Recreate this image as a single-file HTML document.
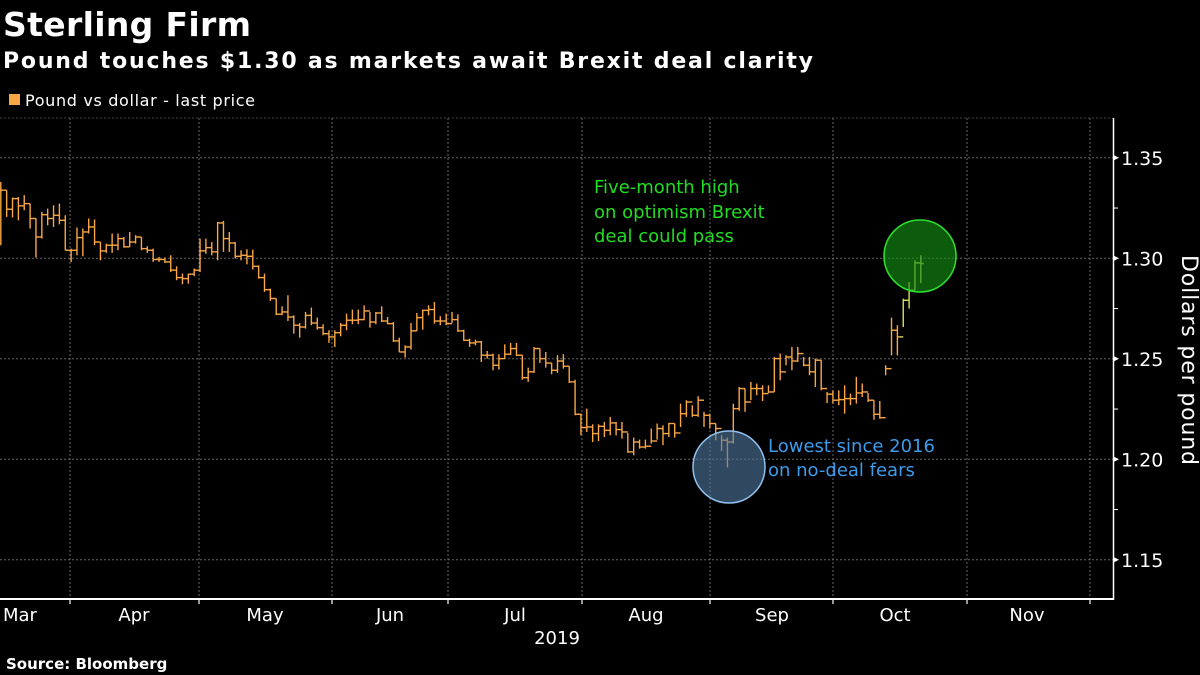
<!DOCTYPE html>
<html><head><meta charset="utf-8"><style>
html,body{margin:0;padding:0;background:#000;}
svg{display:block;font-family:"DejaVu Sans","Liberation Sans",sans-serif;}
</style></head><body>
<svg id="chart" width="1200" height="675" viewBox="0 0 1200 675">
<rect width="1200" height="675" fill="#000"/>
<text x="3" y="36" fill="#fff" font-weight="bold" font-size="33" textLength="248">Sterling Firm</text>
<text x="3" y="68" fill="#fff" font-weight="bold" font-size="22" textLength="810">Pound touches $1.30 as markets await Brexit deal clarity</text>
<g>
<rect x="9" y="94" width="11" height="11" fill="#f8a646"/>
<text x="25" y="106" fill="#fff" font-size="16" textLength="230">Pound vs dollar - last price</text>
</g>
<g id="grid"></g>
<g id="bars"></g>
<g id="axes"></g>
<circle cx="920" cy="256" r="36" fill="rgba(20,140,20,0.65)" stroke="#2ee02e" stroke-width="1.5"/>
<circle cx="729" cy="467" r="36" fill="rgba(80,120,160,0.6)" stroke="#8fc0ee" stroke-width="1.5"/>
<g fill="#22dd22" font-size="18">
<text x="594" y="193">Five-month high</text>
<text x="594" y="218">on optimism Brexit</text>
<text x="594" y="242">deal could pass</text>
</g>
<g fill="#3d9be9" font-size="18">
<text x="768" y="452">Lowest since 2016</text>
<text x="768" y="476">on no-deal fears</text>
</g>
<text transform="translate(1182,360) rotate(90)" fill="#fff" font-size="22" text-anchor="middle" textLength="210">Dollars per pound</text>
<text x="557" y="644" fill="#fff" font-size="18" text-anchor="middle">2019</text>
<text x="6" y="669" fill="#fff" font-weight="bold" font-size="15">Source: Bloomberg</text>
</svg>
<script>
const closes=[1.3339,1.3244,1.3297,1.3261,1.3272,1.3198,1.3106,1.3217,1.3198,1.3214,1.3189,1.3040,1.3040,1.3103,1.3131,1.3156,1.3081,1.3037,1.3065,1.3065,1.3098,1.3057,1.3081,1.3106,1.3048,1.3040,1.2994,1.2994,1.2982,1.2941,1.2904,1.2899,1.2921,1.2941,1.3037,1.3053,1.3032,1.3176,1.3098,1.3076,1.3010,1.3015,1.3010,1.2960,1.2904,1.2844,1.2800,1.2722,1.2733,1.2708,1.2667,1.2658,1.2716,1.2678,1.2655,1.2625,1.2609,1.2630,1.2667,1.2692,1.2692,1.2695,1.2738,1.2683,1.2728,1.2688,1.2675,1.2589,1.2534,1.2559,1.2639,1.2705,1.2741,1.2745,1.2688,1.2688,1.2675,1.2695,1.2639,1.2592,1.2579,1.2584,1.2518,1.2518,1.2468,1.2501,1.2523,1.2551,1.2518,1.2406,1.2435,1.2551,1.2501,1.2479,1.2443,1.2489,1.2463,1.2385,1.2224,1.2158,1.2161,1.2128,1.2164,1.2144,1.2181,1.2148,1.2136,1.2037,1.2086,1.2061,1.2065,1.2091,1.2153,1.2128,1.2178,1.2131,1.2227,1.2285,1.2219,1.2294,1.2219,1.2178,1.2153,1.2095,1.2086,1.2252,1.2352,1.2285,1.2352,1.2352,1.2327,1.2335,1.2501,1.2435,1.2509,1.2489,1.2526,1.2468,1.2435,1.2493,1.2352,1.2324,1.2294,1.2297,1.2302,1.2302,1.2330,1.2335,1.2294,1.2224,1.2207,1.2451,1.2642,1.2609,1.2791,1.2841,1.2977,1.2974];
const highs=[1.3380,1.3339,1.3302,1.3305,1.3314,1.3272,1.3198,1.3231,1.3247,1.3264,1.3272,1.3214,1.3048,1.3153,1.3148,1.3198,1.3193,1.3081,1.3073,1.3123,1.3123,1.3106,1.3131,1.3115,1.3106,1.3060,1.3048,1.3007,1.3004,1.3015,1.2960,1.2924,1.2924,1.2949,1.3098,1.3098,1.3081,1.3181,1.3186,1.3131,1.3081,1.3040,1.3045,1.3043,1.2965,1.2924,1.2849,1.2800,1.2761,1.2816,1.2716,1.2678,1.2733,1.2755,1.2705,1.2672,1.2642,1.2642,1.2678,1.2725,1.2745,1.2745,1.2766,1.2733,1.2733,1.2761,1.2708,1.2683,1.2605,1.2567,1.2678,1.2728,1.2745,1.2766,1.2783,1.2712,1.2725,1.2733,1.2721,1.2645,1.2600,1.2595,1.2589,1.2539,1.2526,1.2523,1.2572,1.2579,1.2579,1.2518,1.2456,1.2559,1.2551,1.2534,1.2479,1.2518,1.2523,1.2463,1.2396,1.2227,1.2252,1.2174,1.2174,1.2186,1.2211,1.2186,1.2186,1.2131,1.2108,1.2098,1.2098,1.2153,1.2178,1.2169,1.2181,1.2178,1.2277,1.2294,1.2269,1.2314,1.2236,1.2227,1.2178,1.2120,1.2108,1.2277,1.2360,1.2352,1.2385,1.2377,1.2368,1.2368,1.2509,1.2526,1.2518,1.2559,1.2559,1.2509,1.2509,1.2501,1.2493,1.2335,1.2343,1.2343,1.2368,1.2327,1.2410,1.2377,1.2330,1.2294,1.2290,1.2468,1.2705,1.2667,1.2799,1.2882,1.2990,1.3015];
const lows=[1.3065,1.3206,1.3203,1.3189,1.3239,1.3148,1.3004,1.3098,1.3164,1.3156,1.3169,1.3040,1.2982,1.3015,1.3010,1.3123,1.3065,1.2990,1.3027,1.3027,1.3040,1.3053,1.3057,1.3073,1.3040,1.3027,1.2982,1.2982,1.2977,1.2932,1.2891,1.2871,1.2874,1.2911,1.2932,1.3023,1.3015,1.2990,1.3032,1.3032,1.2999,1.2990,1.2970,1.2944,1.2899,1.2833,1.2788,1.2717,1.2717,1.2688,1.2625,1.2605,1.2650,1.2667,1.2645,1.2617,1.2579,1.2559,1.2612,1.2642,1.2672,1.2672,1.2692,1.2655,1.2672,1.2683,1.2672,1.2584,1.2534,1.2506,1.2546,1.2639,1.2645,1.2716,1.2675,1.2667,1.2667,1.2678,1.2634,1.2589,1.2559,1.2567,1.2484,1.2501,1.2443,1.2446,1.2501,1.2518,1.2513,1.2396,1.2385,1.2430,1.2479,1.2456,1.2423,1.2430,1.2451,1.2380,1.2219,1.2120,1.2136,1.2086,1.2091,1.2111,1.2119,1.2119,1.2103,1.2032,1.2020,1.2053,1.2053,1.2078,1.2098,1.2070,1.2111,1.2108,1.2161,1.2211,1.2211,1.2211,1.2161,1.2153,1.2095,1.2042,1.1959,1.2078,1.2241,1.2236,1.2294,1.2319,1.2290,1.2330,1.2335,1.2393,1.2468,1.2443,1.2484,1.2463,1.2418,1.2360,1.2343,1.2280,1.2277,1.2269,1.2227,1.2269,1.2277,1.2310,1.2285,1.2197,1.2202,1.2418,1.2517,1.2517,1.2658,1.2750,1.2841,1.2877];
const yTicks=[1.15,1.20,1.25,1.30,1.35];
const yTickLabels=["1.15","1.20","1.25","1.30","1.35"];
const months=["Mar","Apr","May","Jun","Jul","Aug","Sep","Oct","Nov"];

const NS="http://www.w3.org/2000/svg";
function y(v){return 258.3-(v-1.30)*2010;}
function x(i){return 0.8+i*5.86;}
const monthBounds=[70,199,332,448,582,710,833,967,1090];
const monthLabelX=[3,134,265,390,515,646,772,895,1027];
function mk(tag,attrs,parent){const e=document.createElementNS(NS,tag);for(const k in attrs)e.setAttribute(k,attrs[k]);parent.appendChild(e);return e;}
const grid=document.getElementById('grid'),bars=document.getElementById('bars'),axes=document.getElementById('axes');
yTicks.forEach((v,k)=>{
  const l=mk('line',{x1:0,x2:1113,y1:y(v),y2:y(v),stroke:'#666','stroke-width':1,'stroke-dasharray':'2,2'},grid);
  
  
  const t=mk('text',{x:1121,y:y(v)+7,fill:'#fff','font-size':19},axes);
  t.textContent=yTickLabels[k];
  
  
  mk('path',{d:`M1113 ${y(v)-3}L1119 ${y(v)}L1113 ${y(v)+3}Z`,fill:'#fff'},axes);
  if(k<yTicks.length-1) mk('line',{x1:1113,x2:1118,y1:y(v+0.025),y2:y(v+0.025),stroke:'#fff'},axes);
});
mk('line',{x1:0,x2:1113,y1:118,y2:118,stroke:'#444','stroke-width':1,'stroke-dasharray':'2,2'},grid);
monthBounds.forEach(b=>{
  const l=mk('line',{x1:b,x2:b,y1:118,y2:599,stroke:'#666','stroke-width':1,'stroke-dasharray':'2,2'},grid);
  
  
  mk('line',{x1:b,x2:b,y1:599,y2:604,stroke:'#fff','stroke-width':1.2},axes);
});
months.forEach((m,k)=>{
  const t=mk('text',{x:monthLabelX[k],y:621,fill:'#fff','font-size':18,'text-anchor':k===0?'start':'middle'},axes);
  t.textContent=m;
  
  
});
mk('line',{x1:0,x2:1114,y1:599,y2:599,stroke:'#fff','stroke-width':2},axes);
mk('line',{x1:1113.5,x2:1113.5,y1:118,y2:600,stroke:'#fff','stroke-width':1.5},axes);
closes.forEach((c,i)=>{
  const o=i===0?c:closes[i-1];
  const xi=x(i);
  const col=(i>=154)?'#d8e060':'#f8a646';
  const g=mk('g',{stroke:col,'stroke-width':1.4,fill:'none'},bars);
  
  
  mk('line',{x1:xi,x2:xi,y1:y(highs[i]),y2:y(lows[i])},g);
  mk('line',{x1:xi-3,x2:xi,y1:y(o),y2:y(o)},g);
  mk('line',{x1:xi,x2:xi+3,y1:y(c),y2:y(c)},g);
});
</script>
</body></html>
